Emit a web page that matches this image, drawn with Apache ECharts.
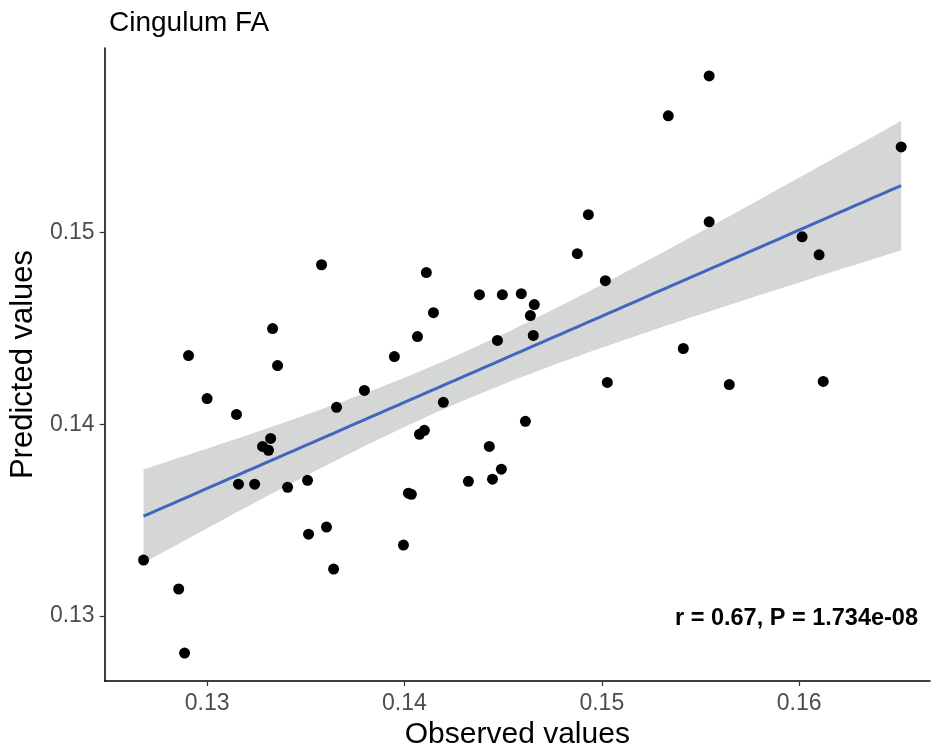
<!DOCTYPE html>
<html><head><meta charset="utf-8">
<script src="https://cdn.jsdelivr.net/npm/echarts@6/dist/echarts.min.js"></script>
<style>html,body{margin:0;padding:0;background:#fff}#c{width:932px;height:755px}</style>
</head><body><div id="c"></div>
<script>
const observed = [0.12678,0.12856,0.12886,0.12906,0.13000,0.13149,0.13159,0.13241,0.13281,0.13311,
0.13322,0.13332,0.13357,0.13408,0.13509,0.13514,0.13580,0.13605,0.13641,0.13656,
0.13797,0.13949,0.13995,0.14020,0.14035,0.14066,0.14076,0.14101,0.14111,0.14147,
0.14197,0.14324,0.14380,0.14430,0.14446,0.14471,0.14491,0.14496,0.14592,0.14613,
0.14638,0.14658,0.14653,0.14876,0.14932,0.15018,0.15028,0.15337,0.15413,0.15544,
0.15544,0.15646,0.16015,0.16101,0.16122,0.16517];
const predicted = [0.13292,0.13141,0.12807,0.14359,0.14135,0.14052,0.13688,0.13688,0.13885,0.13865,
0.13927,0.14500,0.14307,0.13672,0.13708,0.13427,0.14833,0.13464,0.13245,0.14089,
0.14177,0.14354,0.13370,0.13641,0.13635,0.14458,0.13948,0.13969,0.14792,0.14583,
0.14115,0.13703,0.14677,0.13885,0.13714,0.14438,0.13766,0.14677,0.14682,0.14016,
0.14568,0.14625,0.14464,0.14891,0.15094,0.14750,0.14219,0.15610,0.14396,0.15818,
0.15057,0.14208,0.14979,0.14885,0.14224,0.15448];
const xTicks = [0.13, 0.14, 0.15, 0.16];
const yTicks = [0.13, 0.14, 0.15];
const titleText = 'Cingulum FA';
const statText = 'r = 0.67, P = 1.734e-08';

// linear fit with 95% confidence band
const n = observed.length;
const mx = observed.reduce((a,b)=>a+b,0)/n;
const my = predicted.reduce((a,b)=>a+b,0)/n;
let sxx=0, sxy=0;
for (let i=0;i<n;i++){ sxx += (observed[i]-mx)**2; sxy += (observed[i]-mx)*(predicted[i]-my); }
const slope = sxy/sxx, icpt = my - slope*mx;
let sse=0;
for (let i=0;i<n;i++){ const r = predicted[i]-(icpt+slope*observed[i]); sse += r*r; }
const s = Math.sqrt(sse/(n-2));
const tq = 2.005;
const xmin = Math.min(...observed), xmax = Math.max(...observed);
const fitLine = [], bandData = [];
const steps = 80;
for (let k=0;k<=steps;k++){
  const x = xmin + (xmax-xmin)*k/steps;
  const yhat = icpt + slope*x;
  const se = s*Math.sqrt(1/n + (x-mx)**2/sxx);
  fitLine.push([x, yhat]);
  bandData.push([x, yhat - tq*se, yhat + tq*se]);
}

const FONT = '"Liberation Sans", Arial, sans-serif';
const chart = echarts.init(document.getElementById('c'), null, {renderer:'canvas'});
chart.setOption({
  animation: false,
  backgroundColor: '#fff',
  title: { text: titleText, left: 104, top: 4, textStyle: { fontFamily: FONT, fontSize: 28, fontWeight: 'normal', color: '#000' } },
  grid: { left: 104, top: 48, width: 826, height: 634, containLabel: false },
  xAxis: {
    type: 'value', min: 0.12481, max: 0.16663,
    name: 'Observed values', nameLocation: 'middle', nameGap: 39,
    nameTextStyle: { fontFamily: FONT, fontSize: 30, color: '#000', verticalAlign: 'top' },
    axisLine: { show: true, onZero: false, lineStyle: { color: '#000', width: 1.5 } },
    axisTick: { show: true, length: 5, lineStyle: { color: '#333', width: 1.2 }, customValues: xTicks },
    axisLabel: { fontFamily: FONT, fontSize: 23, color: '#4d4d4d', margin: 11, customValues: xTicks, formatter: v => String(v) },
    splitLine: { show: false }
  },
  yAxis: {
    type: 'value', min: 0.12661, max: 0.15964,
    name: 'Predicted values', nameLocation: 'middle', nameGap: 63, nameRotate: 90,
    nameTextStyle: { fontFamily: FONT, fontSize: 31, color: '#000' },
    axisLine: { show: true, onZero: false, lineStyle: { color: '#000', width: 1.5 } },
    axisTick: { show: true, length: 5, lineStyle: { color: '#333', width: 1.2 }, customValues: yTicks },
    axisLabel: { fontFamily: FONT, fontSize: 23, color: '#4d4d4d', margin: 10, customValues: yTicks, formatter: v => String(v) },
    splitLine: { show: false }
  },
  series: [
    {
      type: 'custom', name: 'band', data: bandData, silent: true, z: 1,
      renderItem: function(params, api) {
        if (params.dataIndex !== 0) return null;
        const up = [], lo = [];
        for (let i=0;i<bandData.length;i++){
          up.push(api.coord([bandData[i][0], bandData[i][2]]));
          lo.push(api.coord([bandData[i][0], bandData[i][1]]));
        }
        return { type: 'polygon', shape: { points: up.concat(lo.reverse()) }, style: { fill: '#d5d6d6' } };
      },
      encode: { x: 0, y: [1, 2] }
    },
    {
      type: 'line', data: fitLine, showSymbol: false, z: 2, silent: true,
      lineStyle: { color: '#4265be', width: 3 }
    },
    {
      type: 'scatter', data: observed.map((x,i)=>[x, predicted[i]]), z: 3,
      symbolSize: 11, itemStyle: { color: '#000', opacity: 1 }
    }
  ],
  graphic: [
    { type: 'text', right: 14, top: 607, style: { text: statText, fontFamily: FONT, fontSize: 23.5, fontWeight: 'bold', fill: '#000' } }
  ]
});
</script></body></html>
